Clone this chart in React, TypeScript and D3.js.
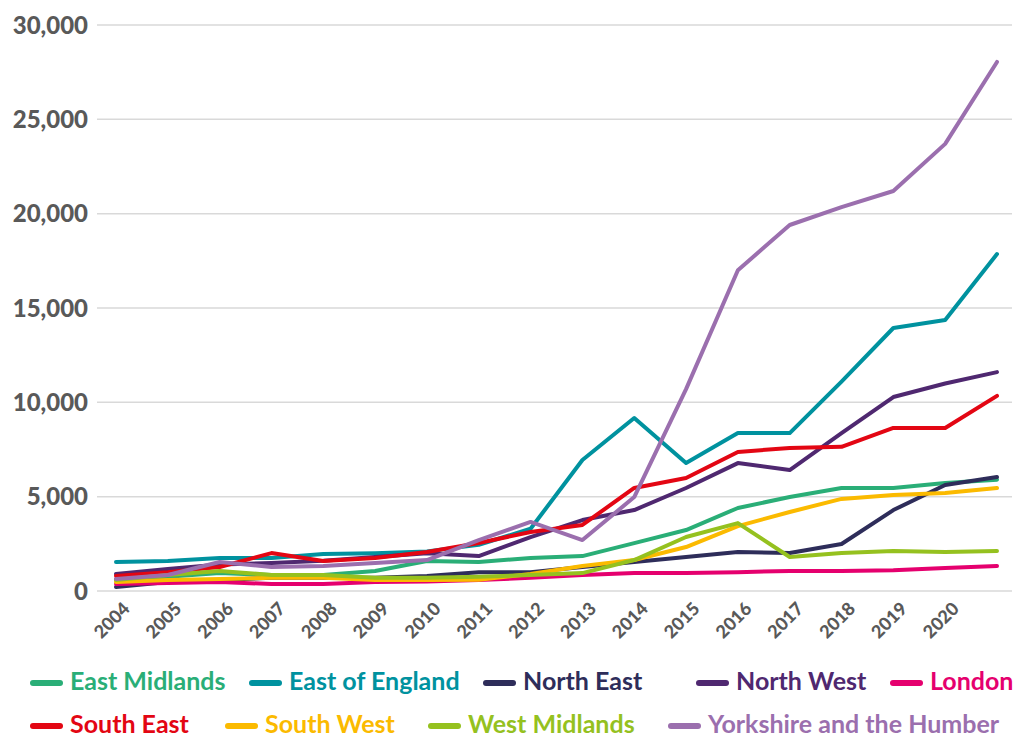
import React, { useEffect, useRef } from "react";
import * as d3 from "d3";

const YEARS = [
  "2004", "2005", "2006", "2007", "2008", "2009", "2010", "2011", "2012",
  "2013", "2014", "2015", "2016", "2017", "2018", "2019", "2020", "2021",
];
// the last category has no label in the original
const YEAR_LABELS = [
  "2004", "2005", "2006", "2007", "2008", "2009", "2010", "2011", "2012",
  "2013", "2014", "2015", "2016", "2017", "2018", "2019", "2020", "",
];
const Y_TICKS = [0, 5000, 10000, 15000, 20000, 25000, 30000];

const eastMidlands = [600, 750, 950, 850, 850, 1060, 1590, 1540, 1750, 1850, 2540, 3230, 4400, 4980, 5460, 5460, 5720, 5900];
const eastOfEngland = [1540, 1590, 1750, 1750, 1960, 2000, 2100, 2450, 3300, 6940, 9170, 6780, 8370, 8370, 11100, 13940, 14360, 17860];
const northEast = [210, 480, 580, 700, 700, 700, 800, 1000, 1000, 1270, 1540, 1800, 2070, 2010, 2490, 4290, 5620, 6040];
const northWest = [900, 1170, 1400, 1480, 1600, 1800, 2000, 1850, 2860, 3760, 4290, 5460, 6780, 6410, 8370, 10280, 11000, 11600];
const london = [370, 420, 480, 370, 370, 480, 500, 580, 700, 850, 950, 950, 1000, 1060, 1060, 1100, 1220, 1330];
const southEast = [800, 1000, 1270, 2010, 1590, 1750, 2070, 2540, 3130, 3500, 5460, 5990, 7370, 7580, 7640, 8640, 8640, 10340];
const southWest = [480, 580, 640, 700, 700, 580, 580, 600, 900, 1330, 1640, 2330, 3440, 4190, 4880, 5090, 5190, 5460];
const westMidlands = [580, 850, 1060, 850, 850, 700, 700, 750, 850, 950, 1640, 2860, 3600, 1800, 2010, 2120, 2070, 2120];
const yorkshire = [640, 850, 1540, 1270, 1330, 1480, 1640, 2700, 3660, 2700, 4980, 10700, 17000, 19400, 20350, 21200, 23700, 28040];

const SERIES = [
  { name: "East Midlands", color: "#2aae77", values: eastMidlands },
  { name: "East of England", color: "#00929f", values: eastOfEngland },
  { name: "North East", color: "#2e2d5a", values: northEast },
  { name: "North West", color: "#4f2870", values: northWest },
  { name: "London", color: "#e5006e", values: london },
  { name: "South East", color: "#e30613", values: southEast },
  { name: "South West", color: "#fbba00", values: southWest },
  { name: "West Midlands", color: "#95c11f", values: westMidlands },
  { name: "Yorkshire and the Humber", color: "#9b6fae", values: yorkshire },
];

// legend layout: [series index, swatch x, row]
const LEGEND_POS = [
  [0, 31, 0], [1, 250, 0], [2, 484, 0], [3, 697, 0], [4, 891, 0],
  [5, 31, 1], [6, 226, 1], [7, 429, 1], [8, 669, 1],
];

const W = 1013;
const H = 737;
const FONT = "Lato, 'Open Sans', sans-serif";

export default function App() {
  const ref = useRef<SVGSVGElement>(null);

  useEffect(() => {
    const svg = d3.select(ref.current);
    svg.selectAll("*").remove();

    const gridLeft = 97;
    const gridRight = 1012;
    const x = d3.scalePoint<string>().domain(YEARS).range([116, 997]);
    const y = d3.scaleLinear().domain([0, 30000]).range([591, 25]);

    // gridlines
    svg.append("g")
      .selectAll("line")
      .data(Y_TICKS)
      .join("line")
      .attr("x1", gridLeft)
      .attr("x2", gridRight)
      .attr("y1", (d) => y(d))
      .attr("y2", (d) => y(d))
      .attr("stroke", "#d9d9d9")
      .attr("stroke-width", 1.5);

    // y labels
    svg.append("g")
      .selectAll("text")
      .data(Y_TICKS)
      .join("text")
      .attr("x", 88)
      .attr("y", (d) => y(d))
      .attr("dy", "0.36em")
      .attr("text-anchor", "end")
      .attr("font-family", FONT)
      .attr("font-weight", 900)
      .attr("font-size", 24)
      .attr("fill", "#595959")
      .text((d) => d3.format(",")(d));

    // x labels
    svg.append("g")
      .selectAll("text")
      .data(YEARS)
      .join("text")
      .attr("transform", (d) => `translate(${(x(d) as number) + 6},${601}) rotate(-45)`)
      .attr("text-anchor", "end")
      .attr("dy", "0.7em")
      .attr("font-family", FONT)
      .attr("font-weight", 900)
      .attr("font-size", 18)
      .attr("fill", "#595959")
      .text((d, i) => YEAR_LABELS[i]);

    const line = d3.line<number>()
      .x((d, i) => x(YEARS[i]) as number)
      .y((d) => y(d));

    svg.append("g")
      .selectAll("path")
      .data(SERIES)
      .join("path")
      .attr("d", (s) => line(s.values))
      .attr("fill", "none")
      .attr("stroke", (s) => s.color)
      .attr("stroke-width", 4)
      .attr("stroke-linejoin", "round")
      .attr("stroke-linecap", "round");

    // legend
    const leg = svg.append("g")
      .selectAll("g")
      .data(LEGEND_POS)
      .join("g")
      .attr("transform", (p) => `translate(${p[1]},${683 + p[2] * 43})`);
    leg.append("line")
      .attr("x1", 2)
      .attr("x2", 29)
      .attr("stroke", (p) => SERIES[p[0]].color)
      .attr("stroke-width", 6)
      .attr("stroke-linecap", "round");
    leg.append("text")
      .attr("x", 39)
      .attr("y", 7)
      .attr("font-family", FONT)
      .attr("font-weight", 700)
      .attr("font-size", 25)
      .attr("fill", (p) => SERIES[p[0]].color)
      .text((p) => SERIES[p[0]].name);
  }, []);

  return (
    <svg ref={ref} width={W} height={H} style={{ display: "block", position: "absolute", left: 0, top: 0 }} />
  );
}
